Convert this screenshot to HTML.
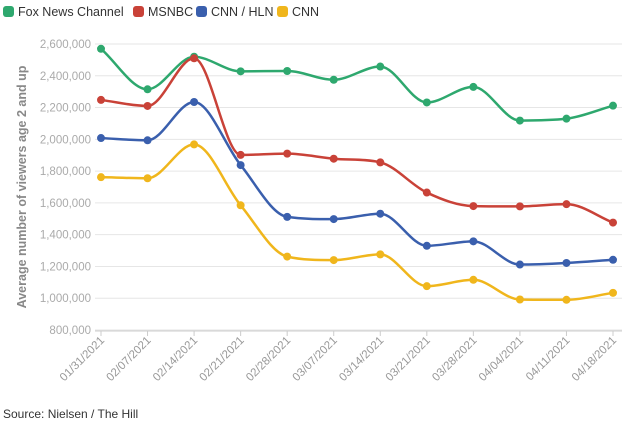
<!DOCTYPE html>
<html><head><meta charset="utf-8"><style>
body{margin:0;background:#fff;font-family:"Liberation Sans",sans-serif}
svg text{font-family:"Liberation Sans",sans-serif}
</style></head><body>
<svg id="c" width="627" height="425">
<g>
<rect x="3" y="6" width="11" height="11" rx="3" fill="#2ea86e"/>
<text x="18" y="16" font-size="12.5" fill="#333">Fox News Channel</text>
<rect x="133" y="6" width="11" height="11" rx="3" fill="#c94238"/>
<text x="148" y="16" font-size="12.5" fill="#333">MSNBC</text>
<rect x="196" y="6" width="11" height="11" rx="3" fill="#3a5fad"/>
<text x="211" y="16" font-size="12.5" fill="#333">CNN / HLN</text>
<rect x="277" y="6" width="11" height="11" rx="3" fill="#f0b61c"/>
<text x="292" y="16" font-size="12.5" fill="#333">CNN</text>
</g>
<text transform="translate(26,187) rotate(-90)" text-anchor="middle" font-size="12.5" font-weight="bold" fill="#888">Average number of viewers age 2 and up</text>
<g id="grid"></g><g id="series"></g>
<text x="3" y="418" font-size="12" fill="#333">Source: Nielsen / The Hill</text>
</svg>
<script>
const categories=["01/31/2021","02/07/2021","02/14/2021","02/21/2021","02/28/2021","03/07/2021","03/14/2021","03/21/2021","03/28/2021","04/04/2021","04/11/2021","04/18/2021"];
const fox=[2570000,2315000,2520000,2428000,2430000,2375000,2458000,2232000,2330000,2118000,2130000,2212000];
const msnbc=[2248000,2210000,2510000,1902000,1910000,1878000,1855000,1665000,1580000,1578000,1592000,1476000];
const cnnHln=[2008000,1994000,2235000,1838000,1512000,1498000,1532000,1330000,1358000,1212000,1222000,1242000];
const cnn=[1762000,1755000,1968000,1585000,1262000,1240000,1276000,1076000,1116000,992000,990000,1034000];
const yTicks=[800000,1000000,1200000,1400000,1600000,1800000,2000000,2200000,2400000,2600000];
const NS="http://www.w3.org/2000/svg";
const x=i=>101+i*(613-101)/(categories.length-1);
const y=v=>330-(v-800000)/1800000*286;
const grid=document.getElementById('grid'),ser=document.getElementById('series');
function mk(t,a,p){const e=document.createElementNS(NS,t);for(const k in a)e.setAttribute(k,a[k]);p.appendChild(e);return e;}
yTicks.forEach(v=>{
 const l=mk('line',{x1:95,x2:622,y1:y(v),y2:y(v),stroke:'#e6e6e6'},grid);
 
 
 const t=mk('text',{x:91,y:y(v)+4,'text-anchor':'end','font-size':11.5,fill:'#aaa'},grid);
 t.textContent=v.toLocaleString('en-US');
 
 
});
mk('line',{x1:95,x2:622,y1:331,y2:331,stroke:'#ccc'},grid);
categories.forEach((c,i)=>{
 const tk=mk('line',{x1:x(i),x2:x(i),y1:331,y2:336,stroke:'#ccc'},grid);
 
 
 const t=mk('text',{transform:`translate(${x(i)+4},${341}) rotate(-45)`,'text-anchor':'end','font-size':11.5,fill:'#999'},grid);
 t.textContent=c;
 
 
});
function path(vals){
 const p=vals.map((v,i)=>[x(i),y(v)]),n=p.length,s=[],m=[];
 for(let i=0;i<n-1;i++)s.push((p[i+1][1]-p[i][1])/(p[i+1][0]-p[i][0]));
 m[0]=s[0];m[n-1]=s[n-2];
 for(let i=1;i<n-1;i++){m[i]=(s[i-1]*s[i]<=0)?0:(s[i-1]+s[i])/2;
  const a=Math.abs(s[i-1]),b=Math.abs(s[i]);if(m[i]!==0)m[i]=Math.sign(m[i])*Math.min(Math.abs(m[i]),3*Math.min(a,b));}
 let d=`M${p[0][0]},${p[0][1]}`;
 for(let i=0;i<n-1;i++){const h=(p[i+1][0]-p[i][0])/3;
  d+=`C${p[i][0]+h},${p[i][1]+m[i]*h} ${p[i+1][0]-h},${p[i+1][1]-m[i+1]*h} ${p[i+1][0]},${p[i+1][1]}`;}
 return d;}
[[fox,'#2ea86e','fox'],[msnbc,'#c94238','msnbc'],[cnnHln,'#3a5fad','cnn-hln'],[cnn,'#f0b61c','cnn']].forEach(([vals,col,n])=>{
 const g=mk('g',{},ser);
 
 
 const l=mk('path',{d:path(vals),fill:'none',stroke:col,'stroke-width':2.5},g);
 
 
 vals.forEach((v,i)=>{
  const c=mk('circle',{cx:x(i),cy:y(v),r:4,fill:col},g);
  
  
 });
});
</script>
</body></html>
